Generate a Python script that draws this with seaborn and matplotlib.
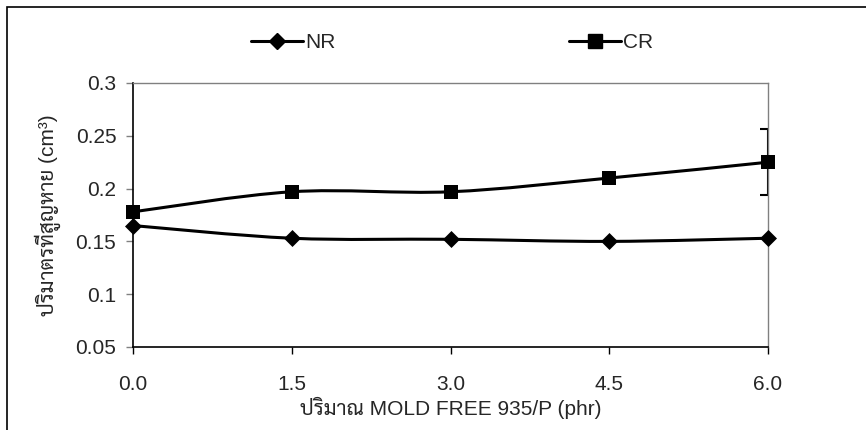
import numpy as np
import seaborn as sns
import matplotlib.pyplot as plt
from matplotlib.path import Path
from matplotlib.patches import PathPatch, Rectangle
from matplotlib.lines import Line2D

phr = [0.0, 1.5, 3.0, 4.5, 6.0]
nr_loss = [0.165, 0.153, 0.152, 0.150, 0.153]
cr_loss = [0.178, 0.197, 0.197, 0.210, 0.225]
cr_err_last = 0.031
series_names = ['NR', 'CR']
x_ticks = [0.0, 1.5, 3.0, 4.5, 6.0]
y_ticks = [0.05, 0.1, 0.15, 0.2, 0.25, 0.3]

sns.set_theme(style='white')
plt.rcParams['font.family'] = ['Liberation Sans', 'Sarabun', 'DejaVu Sans']


def smooth_path(xs, ys):
    # excel style smoothed line: cubic bezier through the points
    pts = np.column_stack([xs, ys])
    ext = np.vstack([pts[0], pts, pts[-1]])
    verts = [pts[0]]
    codes = [Path.MOVETO]
    for i in range(len(pts) - 1):
        p0, p1, p2, p3 = ext[i], ext[i + 1], ext[i + 2], ext[i + 3]
        verts += [p1 + (p2 - p0) / 6, p2 - (p3 - p1) / 6, p2]
        codes += [Path.CURVE4] * 3
    return Path(verts, codes)


fig = plt.figure(figsize=(8.66, 4.30), dpi=100)
ax = fig.add_axes([133 / 866, 1 - 347 / 430, 635 / 866, 264 / 430])

for ys in [nr_loss, cr_loss]:
    ax.add_patch(PathPatch(smooth_path(phr, ys), fill=False, ec='black', lw=2.2, zorder=3))

ax.errorbar([phr[-1]], [cr_loss[-1]], yerr=[cr_err_last], fmt='none',
            ecolor='black', elinewidth=1.5, capsize=6, capthick=1.5, zorder=2)

sns.scatterplot(x=phr, y=nr_loss, marker='D', s=75, color='black', edgecolor='black',
                linewidth=0, ax=ax, zorder=4, clip_on=False)
sns.scatterplot(x=phr, y=cr_loss, marker='s', s=110, color='black', edgecolor='black',
                linewidth=0, ax=ax, zorder=4, clip_on=False)

ax.set_xlim(0, 6)
ax.set_ylim(0.05, 0.3)
ax.set_xticks(x_ticks)
ax.set_xticklabels([f'{v:.1f}' for v in x_ticks])
ax.set_yticks(y_ticks)
ax.set_yticklabels([f'{v:g}' for v in y_ticks])
ax.tick_params(axis='x', direction='out', length=5, width=1, color='black',
               labelsize=15, pad=15, bottom=True)
ax.tick_params(axis='y', direction='out', length=5, width=1, color='#808080',
               labelsize=15, pad=7, left=True)

for side in ['top', 'right']:
    ax.spines[side].set_color('#808080')
    ax.spines[side].set_linewidth(1)
for side in ['left', 'bottom']:
    ax.spines[side].set_color('black')
    ax.spines[side].set_linewidth(1.2)

ax.set_xlabel('ปริมาณ MOLD FREE 935/P (phr)', fontsize=15, labelpad=2)
ax.set_ylabel('ปริมาตรที่สูญหาย (cm³)', fontsize=15, va='center')
ax.yaxis.set_label_coords((48 - 133) / 635, 0.5)

handles = [Line2D([], [], color='black', lw=2.2, marker='D', markersize=8),
           Line2D([], [], color='black', lw=2.2, marker='s', markersize=10)]
fig.legend(handles, series_names, loc='center', bbox_to_anchor=(0.522, 0.9), ncol=2,
           frameon=False, fontsize=15, handlelength=2.5, handletextpad=0.1,
           columnspacing=11.2)

fig.patches.append(Rectangle((7 / 866, -0.5), 2, 0.5 + 1 - 7 / 430, transform=fig.transFigure,
                             fill=False, ec='black', lw=1.2, clip_on=False))

fig.savefig('out.png', dpi=100, facecolor='white')
